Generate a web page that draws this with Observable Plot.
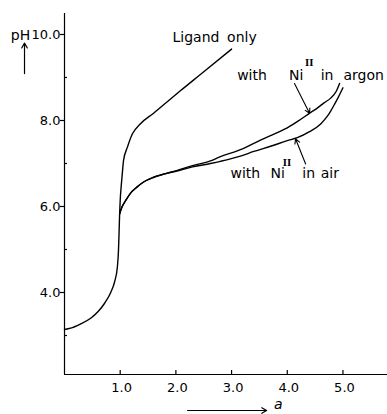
<!DOCTYPE html>
<html>
<head>
<meta charset="utf-8">
<script src="https://cdn.jsdelivr.net/npm/d3@7"></script>
<script src="https://cdn.jsdelivr.net/npm/@observablehq/plot@0.6"></script>
<style>
  html, body { margin: 0; padding: 0; background: #fff; }
  #chart svg { display: block; }
</style>
</head>
<body>
<div id="chart"></div>
<script>
// ---- data (a = moles base per mole ligand, pH) ----
const sharedA  = [0, 0.11, 0.29, 0.47, 0.60, 0.72, 0.83, 0.90, 0.95, 0.97, 0.98, 0.99];
const sharedPH = [3.14, 3.17, 3.27, 3.40, 3.55, 3.75, 4.00, 4.25, 4.60, 5.00, 5.40, 5.83];

const ligandA  = [1.00, 1.02, 1.04, 1.06, 1.13, 1.22, 1.36, 1.60, 1.84, 2.08, 2.44, 3.00];
const ligandPH = [6.14, 6.50, 6.80, 7.07, 7.38, 7.69, 7.92, 8.17, 8.43, 8.69, 9.07, 9.66];

const argonA  = [0.99, 1.03, 1.10, 1.18, 1.30, 1.42, 1.60, 1.80, 2.00, 2.30, 2.62, 2.80, 3.16, 3.40, 3.70, 4.00, 4.20, 4.39, 4.55, 4.66, 4.78, 4.88, 4.94];
const argonPH = [5.83, 5.98, 6.14, 6.30, 6.45, 6.57, 6.68, 6.76, 6.83, 6.95, 7.06, 7.16, 7.32, 7.47, 7.65, 7.83, 7.99, 8.16, 8.30, 8.41, 8.52, 8.68, 8.86];

const airA  = [0.99, 1.03, 1.10, 1.18, 1.30, 1.42, 1.60, 1.80, 2.00, 2.30, 2.62, 2.80, 3.16, 3.40, 3.70, 4.00, 4.18, 4.40, 4.60, 4.72, 4.78, 4.85, 4.92, 5.00];
const airPH = [5.83, 5.98, 6.14, 6.30, 6.45, 6.57, 6.68, 6.76, 6.82, 6.92, 7.00, 7.05, 7.17, 7.28, 7.40, 7.53, 7.60, 7.74, 7.92, 8.10, 8.22, 8.38, 8.55, 8.76];

const yTicks = [4, 6, 8, 10];
const yMinor = [3, 5, 7, 9];
const xTicks = [1, 2, 3, 4, 5];

// ---- build tables ----
const zip = (xs, ys) => xs.map((a, i) => ({a, pH: ys[i]}));
const ligandCurve = zip(sharedA.concat(ligandA), sharedPH.concat(ligandPH));
const argonCurve = zip(argonA, argonPH);
const airCurve = zip(airA, airPH);

const Y0 = 2.093, Y1 = 10.488, X0 = 0, X1 = 5.8;
const font = "DejaVu Sans";

// annotation texts placed in data coordinates
const labels = [
  {a: 1.94, pH: 9.92, t: "Ligand"},
  {a: 2.92, pH: 9.92, t: "only"},
  {a: 3.10, pH: 9.05, t: "with"},
  {a: 4.03, pH: 9.05, t: "Ni"},
  {a: 4.60, pH: 9.05, t: "in"},
  {a: 5.01, pH: 9.05, t: "argon"},
  {a: 2.98, pH: 6.76, t: "with"},
  {a: 3.70, pH: 6.76, t: "Ni"},
  {a: 4.27, pH: 6.76, t: "in"},
  {a: 4.60, pH: 6.76, t: "air"}
];
const supers = [
  {a: 4.32, pH: 9.33, t: "II"},
  {a: 3.92, pH: 7.00, t: "II"}
];
const pointers = [
  {a1: 4.13, p1: 8.86, a2: 4.40, p2: 8.17},
  {a1: 4.33, p1: 6.99, a2: 4.15, p2: 7.57}
];

const chart = Plot.plot({
  width: 387,
  height: 414,
  marginLeft: 64,
  marginRight: 0,
  marginTop: 13,
  marginBottom: 40,
  x: {domain: [X0, X1], axis: null},
  y: {domain: [Y0, Y1], axis: null},
  style: {fontFamily: font, fontSize: "14px", background: "#fff", color: "#000"},
  marks: [
    // axes lines
    Plot.ruleX([X0], {y1: Y0, y2: Y1, stroke: "#000", strokeWidth: 1.2}),
    Plot.ruleY([Y0], {x1: X0, x2: X1, stroke: "#000", strokeWidth: 1.2}),
    // y major ticks (outside) and minor ticks (inside)
    Plot.ruleY(yTicks, {y: d => d, x1: X0 - 4 / 55.7, x2: X0, stroke: "#000", strokeWidth: 1.2}),
    Plot.ruleY(yMinor, {y: d => d, x1: X0, x2: X0 + 3 / 55.7, stroke: "#000", strokeWidth: 1.2}),
    Plot.text(yTicks, {x: X0, y: d => d, text: d => d.toFixed(1), textAnchor: "end", dx: -4, fontSize: 13}),
    // x ticks (inside)
    Plot.ruleX(xTicks, {x: d => d, y1: Y0, y2: Y0 + 4 / 43, stroke: "#000", strokeWidth: 1.2}),
    Plot.text(xTicks, {x: d => d, y: Y0, text: d => d.toFixed(1), dy: 13, dx: 1.5, fontSize: 13}),
    // axis captions
    Plot.text(["pH"], {x: -0.79, y: 9.98, text: d => d, fontSize: 14}),
    Plot.arrow([0], {x1: -0.718, y1: 9.09, x2: -0.718, y2: 9.80, stroke: "#000", strokeWidth: 1.2, headLength: 7}),
    Plot.arrow([0], {x1: 2.21, y1: 1.256, x2: 3.63, y2: 1.256, stroke: "#000", strokeWidth: 1.2, headLength: 7}),
    Plot.text(["a"], {x: 3.84, y: 1.40, text: d => d, fontSize: 14, fontStyle: "italic"}),
    // curves
    Plot.line(ligandCurve, {x: "a", y: "pH", curve: "monotone-x", stroke: "#000", strokeWidth: 1.4}),
    Plot.line(argonCurve, {x: "a", y: "pH", curve: "monotone-x", stroke: "#000", strokeWidth: 1.4}),
    Plot.line(airCurve, {x: "a", y: "pH", curve: "monotone-x", stroke: "#000", strokeWidth: 1.4}),
    // annotations
    Plot.text(labels, {x: "a", y: "pH", text: "t", textAnchor: "start", fontSize: 14}),
    Plot.text(supers, {x: "a", y: "pH", text: "t", textAnchor: "start", fontSize: 9, fontWeight: "bold", fontFamily: "DejaVu Serif"}),
    Plot.arrow(pointers, {x1: "a1", y1: "p1", x2: "a2", y2: "p2", stroke: "#000", strokeWidth: 1.1, headLength: 7})
  ]
});

document.getElementById("chart").appendChild(chart);
</script>
</body>
</html>
